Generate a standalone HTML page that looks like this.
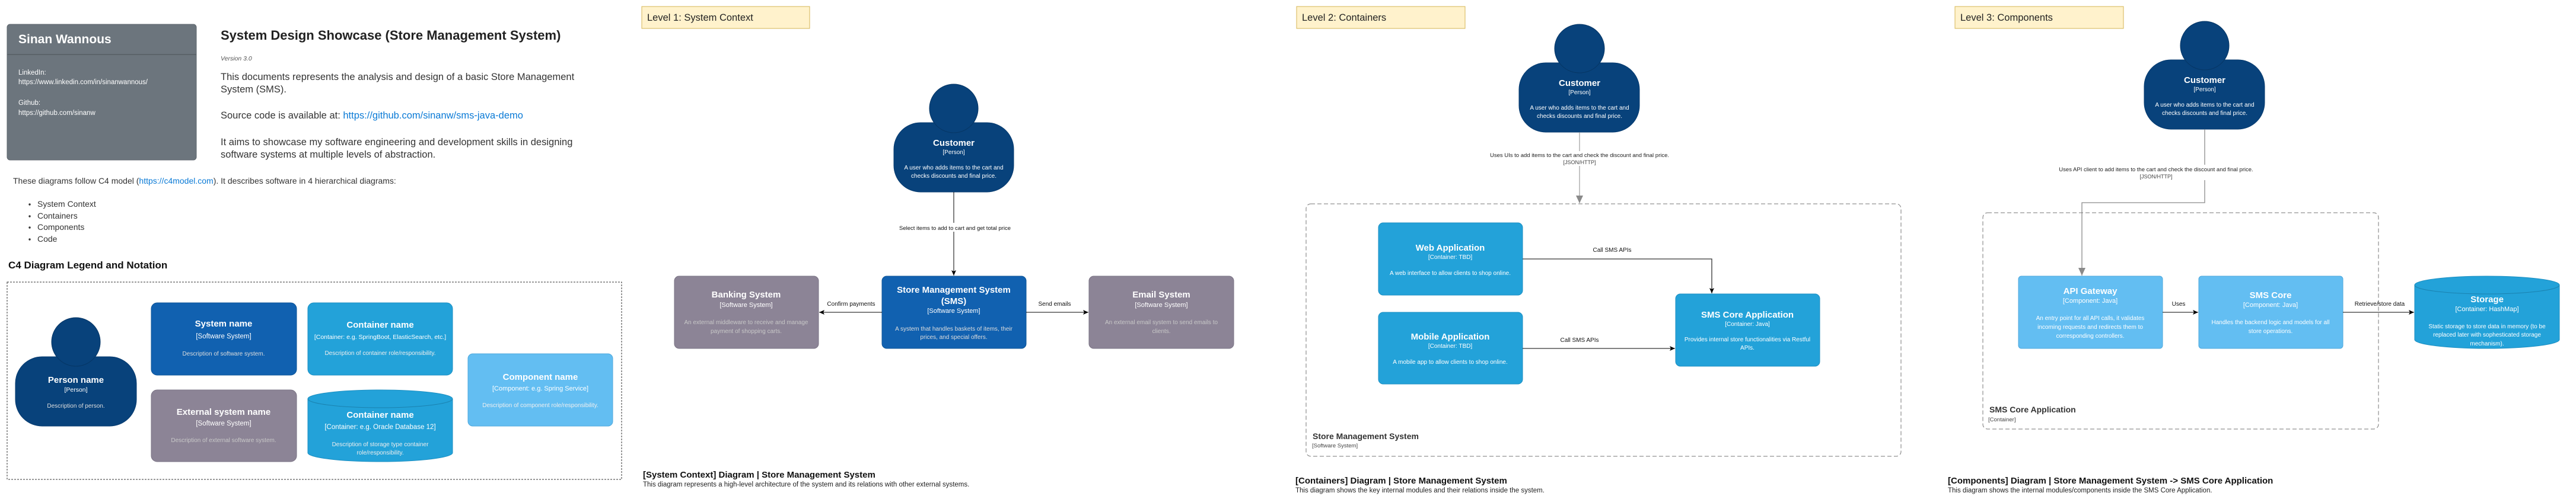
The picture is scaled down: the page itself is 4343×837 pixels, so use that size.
<!DOCTYPE html>
<html><head><meta charset="utf-8"><style>
body{margin:0;width:4343px;height:837px;background:#fff;position:relative;overflow:hidden;font-family:"Liberation Sans",Arial,sans-serif;}
svg{position:absolute;left:0;top:0;}
svg text{font-family:"Liberation Sans",Arial,sans-serif;}
</style></head><body>
<svg width="4343" height="837" viewBox="0 0 4343 837">
<defs>
<marker id="ab" markerWidth="10" markerHeight="10" refX="9" refY="5" orient="auto" markerUnits="userSpaceOnUse"><path d="M0,1 L9,5 L0,9 L2,5 Z" fill="#000"/></marker>
<marker id="ag" markerWidth="14" markerHeight="16" refX="13" refY="7" orient="auto" markerUnits="userSpaceOnUse"><path d="M0,1 L13,7 L0,13 Z" fill="#8a8a8a"/></marker>
</defs>

<rect x="12" y="41" width="319" height="229" rx="5" fill="#6c757d" stroke="#5e666d"/>
<line x1="12" y1="92" x2="331" y2="92" stroke="#575e64" stroke-width="1.5"/>
<text x="31" y="73" font-size="21" font-weight="bold" fill="#fff">Sinan Wannous</text>
<g font-size="11.5" fill="#fff">
<text x="31" y="126">LinkedIn:</text>
<text x="31" y="142">https://www.linkedin.com/in/sinanwannous/</text>
<text x="31" y="177">Github:</text>
<text x="31" y="194">https://github.com/sinanw</text>
</g>
<text x="372" y="67" font-size="22" font-weight="bold" fill="#222">System Design Showcase (Store Management System)</text>
<text x="372" y="102" font-size="10.5" font-style="italic" fill="#555">Version 3.0</text>
<g font-size="16.5" fill="#333">
<text x="372" y="135">This documents represents the analysis and design of a basic Store Management</text>
<text x="372" y="156">System (SMS).</text>
<text x="372" y="200">Source code is available at: <tspan fill="#0a7ad6">https://github.com/sinanw/sms-java-demo</tspan></text>
<text x="372" y="245">It aims to showcase my software engineering and development skills in designing</text>
<text x="372" y="266">software systems at multiple levels of abstraction.</text>
</g>
<text x="22" y="310" font-size="14" fill="#333">These diagrams follow C4 model (<tspan fill="#0a7ad6">https://c4model.com</tspan>). It describes software in 4 hierarchical diagrams:</text>
<g font-size="14" fill="#333">
<circle cx="50" cy="345" r="1.7" fill="#333"/><text x="63" y="349">System Context</text>
<circle cx="50" cy="365" r="1.7" fill="#333"/><text x="63" y="369">Containers</text>
<circle cx="50" cy="384" r="1.7" fill="#333"/><text x="63" y="388">Components</text>
<circle cx="50" cy="404" r="1.7" fill="#333"/><text x="63" y="408">Code</text>
</g>
<text x="14" y="453" font-size="17" font-weight="bold" fill="#111">C4 Diagram Legend and Notation</text>
<rect x="12" y="476" width="1036" height="333" fill="none" stroke="#333" stroke-dasharray="3,2"/>

<rect x="26" y="602" width="204" height="117" rx="45" fill="#08427b" stroke="#073b6f"/>
<ellipse cx="128" cy="577" rx="41" ry="41" fill="#08427b" stroke="#063665"/>
<g fill="#fff" text-anchor="middle">
<text x="128" y="646" font-size="15" font-weight="bold">Person name</text>
<text x="128" y="661" font-size="10.5">[Person]</text>
<text x="128" y="688" font-size="10" fill="#ddd">Description of person.</text>
</g>
<rect x="255" y="511" width="245" height="122" rx="10" fill="#1161b0" stroke="#0e5597"/>
<g fill="#fff" text-anchor="middle">
<text x="377" y="551" font-size="15" font-weight="bold">System name</text>
<text x="377" y="571" font-size="11.5">[Software System]</text>
<text x="377" y="600" font-size="10" fill="#ddd">Description of software system.</text>
</g>
<rect x="519" y="511" width="244" height="122" rx="10" fill="#23a2d9" stroke="#1c8fc2"/>
<g fill="#fff" text-anchor="middle">
<text x="641" y="553" font-size="15" font-weight="bold">Container name</text>
<text x="641" y="572" font-size="10.5">[Container: e.g. SpringBoot, ElasticSearch, etc.]</text>
<text x="641" y="599" font-size="10" fill="#eee">Description of container role/responsibility.</text>
</g>
<rect x="255" y="658" width="245" height="121" rx="10" fill="#8c8496" stroke="#7a7384"/>
<g fill="#fff" text-anchor="middle">
<text x="377" y="700" font-size="15" font-weight="bold">External system name</text>
<text x="377" y="718" font-size="11.5">[Software System]</text>
<text x="377" y="746" font-size="10" fill="#c8c8c8">Description of external software system.</text>
</g>
<path d="M519,673 A122,15 0 0 1 763,673 V764 A122,15 0 0 1 519,764 Z" fill="#23a2d9" stroke="#1c8fc2"/>
<path d="M519,673 A122,15 0 0 0 763,673" fill="none" stroke="#1a82b0"/>
<g fill="#fff" text-anchor="middle">
<text x="641" y="705" font-size="15" font-weight="bold">Container name</text>
<text x="641" y="724" font-size="11.5">[Container: e.g. Oracle Database 12]</text>
<text x="641" y="753" font-size="10" fill="#eee">Description of storage type container</text>
<text x="641" y="767" font-size="10" fill="#eee">role/responsibility.</text>
</g>
<rect x="789" y="597" width="244" height="122" rx="8" fill="#63bef2" stroke="#4fa8dc"/>
<g fill="#fff" text-anchor="middle">
<text x="911" y="641" font-size="15" font-weight="bold">Component name</text>
<text x="911" y="659" font-size="11">[Component: e.g. Spring Service]</text>
<text x="911" y="687" font-size="10" fill="#f0f0f0">Description of component role/responsibility.</text>
</g>

<rect x="1082" y="11" width="283" height="37" fill="#fff2cc" stroke="#d6b656"/>
<text x="1091" y="35" font-size="16.5" fill="#222">Level 1: System Context</text>
<rect x="1507" y="207" width="202" height="117" rx="45" fill="#08427b" stroke="#073b6f"/>
<ellipse cx="1608" cy="183" rx="41" ry="41" fill="#08427b" stroke="#063665"/>
<g fill="#fff" text-anchor="middle">
<text x="1608" y="246" font-size="15" font-weight="bold">Customer</text>
<text x="1608" y="260" font-size="10">[Person]</text>
<text x="1608" y="286" font-size="10">A user who adds items to the cart and</text>
<text x="1608" y="300" font-size="10">checks discounts and final price.</text>
</g>
<line x1="1608" y1="324" x2="1608" y2="465" stroke="#000" marker-end="url(#ab)"/>
<rect x="1540" y="376" width="136" height="15" fill="#fff"/>
<text x="1610" y="388" font-size="9.5" text-anchor="middle" fill="#111">Select items to add to cart and get total price</text>

<rect x="1487" y="466" width="243" height="122" rx="8" fill="#1161b0" stroke="#0e5597"/>
<g fill="#fff" text-anchor="middle">
<text x="1608" y="494" font-size="15" font-weight="bold">Store Management System</text>
<text x="1608" y="513" font-size="15" font-weight="bold">(SMS)</text>
<text x="1608" y="528" font-size="11">[Software System]</text>
<text x="1608" y="558" font-size="10" fill="#ddd">A system that handles baskets of items, their</text>
<text x="1608" y="572" font-size="10" fill="#ddd">prices, and special offers.</text>
</g>
<rect x="1137" y="466" width="243" height="122" rx="8" fill="#8c8496" stroke="#7a7384"/>
<g fill="#fff" text-anchor="middle">
<text x="1258" y="502" font-size="15" font-weight="bold">Banking System</text>
<text x="1258" y="518" font-size="11">[Software System]</text>
<text x="1258" y="547" font-size="10" fill="#c8c8c8">An external middleware to receive and manage</text>
<text x="1258" y="562" font-size="10" fill="#c8c8c8">payment of shopping carts.</text>
</g>
<rect x="1836" y="466" width="244" height="122" rx="8" fill="#8c8496" stroke="#7a7384"/>
<g fill="#fff" text-anchor="middle">
<text x="1958" y="502" font-size="15" font-weight="bold">Email System</text>
<text x="1958" y="518" font-size="11">[Software System]</text>
<text x="1958" y="547" font-size="10" fill="#c8c8c8">An external email system to send emails to</text>
<text x="1958" y="562" font-size="10" fill="#c8c8c8">clients.</text>
</g>
<line x1="1487" y1="527" x2="1381" y2="527" stroke="#000" marker-end="url(#ab)"/>
<line x1="1730" y1="527" x2="1835" y2="527" stroke="#000" marker-end="url(#ab)"/>
<text x="1435" y="516" font-size="10" text-anchor="middle" fill="#111">Confirm payments</text>
<text x="1778" y="516" font-size="10" text-anchor="middle" fill="#111">Send emails</text>
<text x="1084" y="806" font-size="15" font-weight="bold" fill="#111">[System Context] Diagram | Store Management System</text>
<text x="1084" y="821" font-size="11.5" fill="#222">This diagram represents a high-level architecture of the system and its relations with other external systems.</text>

<rect x="2186" y="11" width="284" height="37" fill="#fff2cc" stroke="#d6b656"/>
<text x="2195" y="35" font-size="16.5" fill="#222">Level 2: Containers</text>
<rect x="2561" y="106" width="203" height="117" rx="45" fill="#08427b" stroke="#073b6f"/>
<ellipse cx="2663" cy="82" rx="42" ry="41" fill="#08427b" stroke="#063665"/>
<g fill="#fff" text-anchor="middle">
<text x="2663" y="145" font-size="15" font-weight="bold">Customer</text>
<text x="2663" y="159" font-size="10">[Person]</text>
<text x="2663" y="185" font-size="10">A user who adds items to the cart and</text>
<text x="2663" y="199" font-size="10">checks discounts and final price.</text>
</g>
<line x1="2663" y1="223" x2="2663" y2="343" stroke="#8a8a8a" marker-end="url(#ag)"/>
<rect x="2485" y="255" width="356" height="25" fill="#fff"/>
<text x="2663" y="265" font-size="9.5" text-anchor="middle" fill="#222">Uses UIs to add items to the cart and check the discount and final price.</text>
<text x="2663" y="277" font-size="9" text-anchor="middle" fill="#444">[JSON/HTTP]</text>
<rect x="2202" y="344" width="1003" height="426" rx="8" fill="none" stroke="#777" stroke-dasharray="7,4"/>
<rect x="2324" y="376" width="243" height="122" rx="8" fill="#23a2d9" stroke="#1c8fc2"/>
<g fill="#fff" text-anchor="middle">
<text x="2445" y="423" font-size="15" font-weight="bold">Web Application</text>
<text x="2445" y="437" font-size="10">[Container: TBD]</text>
<text x="2445" y="464" font-size="10">A web interface to allow clients to shop online.</text>
</g>
<rect x="2324" y="527" width="243" height="121" rx="8" fill="#23a2d9" stroke="#1c8fc2"/>
<g fill="#fff" text-anchor="middle">
<text x="2445" y="573" font-size="15" font-weight="bold">Mobile Application</text>
<text x="2445" y="587" font-size="10">[Container: TBD]</text>
<text x="2445" y="614" font-size="10">A mobile app to allow clients to shop online.</text>
</g>
<rect x="2825" y="496" width="243" height="122" rx="8" fill="#23a2d9" stroke="#1c8fc2"/>
<g fill="#fff" text-anchor="middle">
<text x="2946" y="536" font-size="15" font-weight="bold">SMS Core Application</text>
<text x="2946" y="550" font-size="10">[Container: Java]</text>
<text x="2946" y="576" font-size="10">Provides internal store functionalities via Restful</text>
<text x="2946" y="590" font-size="10">APIs.</text>
</g>
<polyline points="2567,437 2886,437 2886,495" fill="none" stroke="#333" stroke-width="1.3" marker-end="url(#ab)"/>
<line x1="2567" y1="588" x2="2824" y2="588" stroke="#000" marker-end="url(#ab)"/>
<text x="2718" y="425" font-size="10" text-anchor="middle" fill="#111">Call SMS APIs</text>
<text x="2663" y="577" font-size="10" text-anchor="middle" fill="#111">Call SMS APIs</text>
<text x="2213" y="741" font-size="14" font-weight="bold" fill="#333">Store Management System</text>
<text x="2212" y="755" font-size="9.5" fill="#444">[Software System]</text>
<text x="2184" y="816" font-size="15" font-weight="bold" fill="#111">[Containers] Diagram | Store Management System</text>
<text x="2184" y="831" font-size="11.5" fill="#222">This diagram shows the key internal modules and their relations inside the system.</text>

<rect x="3296" y="11" width="284" height="37" fill="#fff2cc" stroke="#d6b656"/>
<text x="3305" y="35" font-size="16.5" fill="#222">Level 3: Components</text>
<rect x="3615" y="101" width="203" height="117" rx="45" fill="#08427b" stroke="#073b6f"/>
<ellipse cx="3717" cy="77" rx="41" ry="41" fill="#08427b" stroke="#063665"/>
<g fill="#fff" text-anchor="middle">
<text x="3717" y="140" font-size="15" font-weight="bold">Customer</text>
<text x="3717" y="154" font-size="10">[Person]</text>
<text x="3717" y="180" font-size="10">A user who adds items to the cart and</text>
<text x="3717" y="194" font-size="10">checks discounts and final price.</text>
</g>
<polyline points="3717,218 3717,342 3510,342 3510,465" fill="none" stroke="#8a8a8a" stroke-width="1.3" marker-end="url(#ag)"/>
<rect x="3445" y="278" width="380" height="26" fill="#fff"/>
<text x="3635" y="289" font-size="9.5" text-anchor="middle" fill="#222">Uses API client to add items to the cart and check the discount and final price.</text>
<text x="3635" y="301" font-size="9" text-anchor="middle" fill="#444">[JSON/HTTP]</text>
<rect x="3343" y="359" width="667" height="365" rx="8" fill="none" stroke="#777" stroke-dasharray="7,4"/>
<rect x="3403" y="466" width="243" height="122" rx="5" fill="#63bef2" stroke="#4fa8dc"/>
<g fill="#fff" text-anchor="middle">
<text x="3524" y="496" font-size="15" font-weight="bold">API Gateway</text>
<text x="3524" y="511" font-size="11">[Component: Java]</text>
<text x="3524" y="540" font-size="10">An entry point for all API calls, it validates</text>
<text x="3524" y="555" font-size="10">incoming requests and redirects them to</text>
<text x="3524" y="570" font-size="10">corresponding controllers.</text>
</g>
<rect x="3707" y="466" width="243" height="122" rx="5" fill="#63bef2" stroke="#4fa8dc"/>
<g fill="#fff" text-anchor="middle">
<text x="3828" y="503" font-size="15" font-weight="bold">SMS Core</text>
<text x="3828" y="518" font-size="11">[Component: Java]</text>
<text x="3828" y="547" font-size="10">Handles the backend logic and models for all</text>
<text x="3828" y="562" font-size="10">store operations.</text>
</g>
<path d="M4071,481 A122,15 0 0 1 4315,481 V573 A122,15 0 0 1 4071,573 Z" fill="#23a2d9" stroke="#1c8fc2"/>
<path d="M4071,481 A122,15 0 0 0 4315,481" fill="none" stroke="#1a82b0"/>
<g fill="#fff" text-anchor="middle">
<text x="4193" y="510" font-size="15" font-weight="bold">Storage</text>
<text x="4193" y="525" font-size="11">[Container: HashMap]</text>
<text x="4193" y="554" font-size="10">Static storage to store data in memory (to be</text>
<text x="4193" y="568" font-size="10">replaced later with sophesticated storage</text>
<text x="4193" y="583" font-size="10">mechanism).</text>
</g>
<line x1="3646" y1="527" x2="3706" y2="527" stroke="#000" marker-end="url(#ab)"/>
<line x1="3950" y1="527" x2="4070" y2="527" stroke="#000" marker-end="url(#ab)"/>
<text x="3673" y="516" font-size="10" text-anchor="middle" fill="#111">Uses</text>
<text x="4012" y="516" font-size="10" text-anchor="middle" fill="#111">Retrieve/store data</text>
<text x="3354" y="696" font-size="14" font-weight="bold" fill="#333">SMS Core Application</text>
<text x="3352" y="711" font-size="9.5" fill="#444">[Container]</text>
<text x="3284" y="816" font-size="15" font-weight="bold" fill="#111">[Components] Diagram | Store Management System -&gt; SMS Core Application</text>
<text x="3284" y="831" font-size="11.5" fill="#222">This diagram shows the internal modules/components inside the SMS Core Application.</text>
</svg>
</body></html>
